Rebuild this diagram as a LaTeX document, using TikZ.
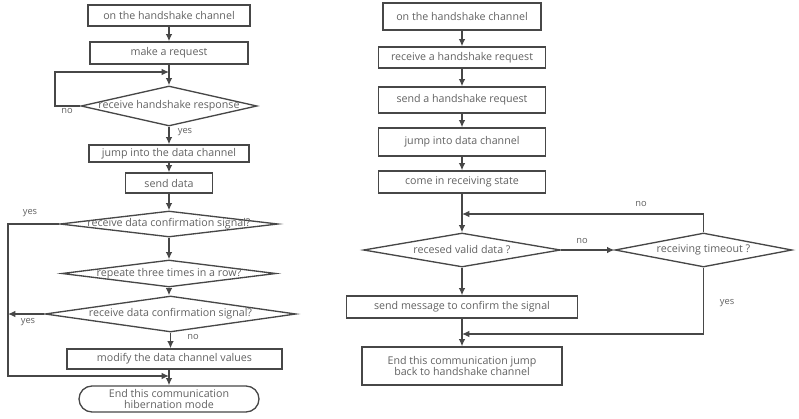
\documentclass[tikz,border=0pt]{standalone}
\usepackage{fontspec}
\setmainfont{Open Sans}
\usetikzlibrary{shapes.geometric,shapes.misc,arrows.meta}
\colorlet{inkline}{black!72}
\colorlet{inktext}{black!62}

\begin{document}
\begin{tikzpicture}[x=0.75pt, y=-0.75pt,
  every node/.style={font=\fontsize{8}{9.5}\selectfont, text=inktext},
  procbox/.style={draw=inkline, line width=1pt, rectangle, inner sep=0pt, align=center},
  decbox/.style={draw=inkline, line width=1pt, diamond, aspect=6, inner xsep=-40pt, inner ysep=0pt},
  endbox/.style={draw=inkline, line width=1pt, rounded rectangle, inner sep=0pt, align=center},
  flow/.style={draw=inkline, line width=1pt, -{Latex[length=5.5pt,width=5pt]}},
  tag/.style={font=\fontsize{7}{8}\selectfont}]
\useasboundingbox (0,0) rectangle (799,418);

% sender side
\node[procbox, minimum width=121.5pt, minimum height=15.75pt] (sendA) at (169,15.5) {on the handshake channel};
\node[procbox, minimum width=118.5pt, minimum height=16.5pt] (sendB) at (169,53) {make a request};
\node[decbox, minimum width=132pt, minimum height=30pt] (sendC) at (169,106) {receive handshake response};
\node[procbox, minimum width=120pt, minimum height=12.75pt] (sendD) at (169,153.5) {jump into the data channel};
\node[procbox, minimum width=65.25pt, minimum height=15pt] (sendE) at (169,183) {send data};
\node[decbox, minimum width=163.5pt, minimum height=19.5pt] (sendF) at (169,224) {receive data confirmation signal?};
\node[decbox, minimum width=160.5pt, minimum height=20.25pt] (sendG) at (169,273.5) {repeate three times in a row?};
\node[decbox, minimum width=188.25pt, minimum height=27pt] (sendH) at (170.5,314) {receive data confirmation signal?};
\node[procbox, minimum width=161.25pt, minimum height=15pt] (sendI) at (174.5,359) {modify the data channel values};
\node[endbox, minimum width=135pt, minimum height=19.5pt] (sendEnd) at (169,399) {End this communication\\[-1.5pt]hibernation mode};

\node[tag] (noC) at (67,111) {no};
\node[tag] (yesC) at (185,132) {yes};
\node[tag] (yesF) at (30,213) {yes};
\node[tag] (yesH) at (28,322) {yes};
\node[tag] (noH) at (193,337) {no};

\coordinate (loopC) at (55,72);
\coordinate (railF) at (8,376);

\draw[flow] (sendA.south) -- (sendA.south |- sendB.north);
\draw[flow] (sendB.south) -- (sendB.south |- sendC.north);
\draw[flow] (sendC.west) -| (loopC) -- (loopC -| sendC.north);
\draw[flow] (sendC.south) -- (sendC.south |- sendD.north);
\draw[flow] (sendD.south) -- (sendD.south |- sendE.north);
\draw[flow] (sendE.south) -- (sendE.south |- sendF.north);
\draw[flow] (sendF.south) -- (sendF.south |- sendG.north);
\draw[flow] (sendG.south) -- (sendG.south |- sendH.north);
\draw[flow] (sendH.south) -- (sendH.south |- sendI.north);
\draw[flow] (sendI.south -| sendEnd.north) -- (sendEnd.north);
\draw[flow] (sendF.west) -| (railF) -- (railF -| sendEnd.north);
\draw[flow] (sendH.west) -- (sendH.west -| railF);

% receiver side
\node[procbox, minimum width=118.5pt, minimum height=20.25pt] (recvA) at (462,16.5) {on the handshake channel};
\node[procbox, minimum width=125.25pt, minimum height=15.75pt] (recvB) at (462,57.5) {receive a handshake request};
\node[procbox, minimum width=125.25pt, minimum height=19.5pt] (recvC) at (462,100) {send a handshake request};
\node[procbox, minimum width=125.25pt, minimum height=21pt] (recvD) at (462,142) {jump into data channel};
\node[procbox, minimum width=125.25pt, minimum height=16.5pt] (recvE) at (462,182) {come in receiving state};
\node[decbox, minimum width=147.75pt, minimum height=25.5pt] (recvF) at (462,250) {recesed valid data ?};
\node[decbox, minimum width=132.75pt, minimum height=25.5pt] (recvG) at (703.5,250) {receiving timeout ?};
\node[procbox, minimum width=173.25pt, minimum height=16.5pt] (recvH) at (462,307) {send message to confirm the signal};
\node[procbox, minimum width=150pt, minimum height=28.5pt] (recvEnd) at (462,366) {End this communication jump\\[-1.5pt]back to handshake channel};

\node[tag] (noF) at (582,241) {no};
\node[tag] (noG) at (641,204) {no};
\node[tag] (yesG) at (727,303) {yes};

\coordinate (joinF) at (462,214);
\coordinate (joinEnd) at (462,334);

\draw[flow] (recvA) -- (recvB);
\draw[flow] (recvB) -- (recvC);
\draw[flow] (recvC) -- (recvD);
\draw[flow] (recvD) -- (recvE);
\draw[flow] (recvE) -- (recvF);
\draw[flow] (recvF) -- (recvG);
\draw[flow] (recvG.north) |- (joinF);
\draw[flow] (recvF) -- (recvH);
\draw[flow] (recvH) -- (recvEnd);
\draw[flow] (recvG.south) |- (joinEnd);

\end{tikzpicture}
\end{document}
